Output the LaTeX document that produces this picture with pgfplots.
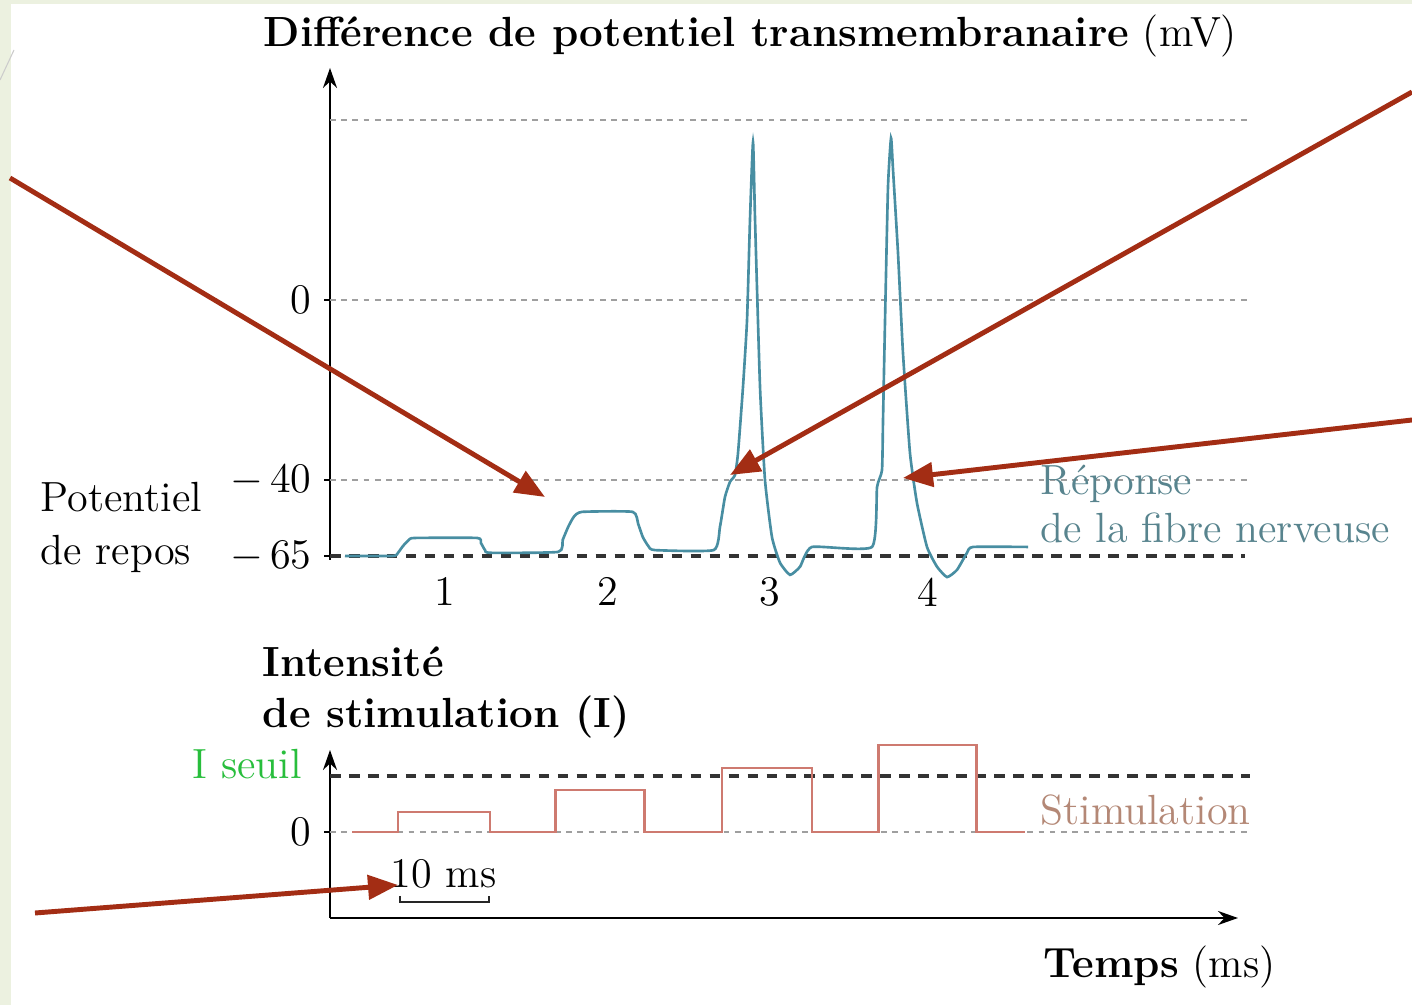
\documentclass[border=0pt]{standalone}
\usepackage{pgfplots}
\pgfplotsset{compat=1.18}
\usetikzlibrary{arrows.meta}

\definecolor{bgGreen}{RGB}{236,241,224}
\definecolor{curveTeal}{RGB}{72,142,162}
\definecolor{textTeal}{RGB}{88,132,142}
\definecolor{stimRed}{RGB}{206,122,112}
\definecolor{stimText}{RGB}{180,136,118}
\definecolor{seuilGreen}{RGB}{40,190,60}
\definecolor{arrowRed}{RGB}{163,45,20}

\tikzset{
  lightdash/.style={gray!75, line width=0.5pt, dash pattern=on 1.6pt off 1.6pt},
  darkdash/.style={black!80, line width=0.9pt, dash pattern=on 3pt off 2.4pt},
  annot/.style={arrowRed, line width=1.4pt, -{Triangle[length=3mm,width=2.4mm]}},
}

\begin{document}
\begin{tikzpicture}
\useasboundingbox (0,0) rectangle (141.2mm,100.5mm);
\fill[bgGreen] (0,0) rectangle (141.2mm,100.5mm);
\fill[white] (1.1mm,0) rectangle (141.2mm,100.1mm);
\draw[gray!40, line width=0.3pt] (0,92.5mm) -- (1.4mm,95.5mm);

\pgfplotsset{every axis/.append style={
  scale only axis, clip=false, anchor=south west,
  tick align=outside, major tick length=1.2mm,
  axis line style={line width=0.6pt},
  tick style={black, line width=0.6pt},
  xtick=\empty,
  tick label style={font=\fontsize{12}{14}\selectfont},
}}

% ===== Top: membrane potential =====
\begin{axis}[
    at={(33mm,44.5mm)}, width=92mm, height=49.2mm,
    xmin=0, xmax=100, ymin=-57.8, ymax=51.6,
    axis x line=none, axis y line=left,
    y axis line style={-{Stealth[length=2mm,width=1.4mm]}},
    ytick={-56.9,-40,0}, yticklabels={{$-$\,65},{$-$\,40},0},
]
\addplot[lightdash] coordinates {(0,40) (100,40)};
\addplot[lightdash] coordinates {(0,0) (100,0)};
\addplot[lightdash] coordinates {(0,-40) (100,-40)};
\addplot[darkdash] coordinates {(0,-56.9) (99.5,-56.9)};
\addplot[curveTeal, line width=0.75pt, smooth, tension=0.3] coordinates {
  (1.63,-56.9) (6.85,-56.9) (7.39,-56.2) (7.93,-54.7) (8.59,-53.3) (9.24,-52.9)
  (16.0,-52.9) (16.4,-54.0) (16.85,-55.6) (17.4,-56.2)
  (24.8,-56.0) (25.3,-53.3) (25.9,-50.4) (26.5,-48.2) (27.4,-47.1)
  (32.9,-47.1) (33.5,-49.8) (34.0,-52.7) (34.6,-54.7) (35.3,-55.6)
  (41.7,-55.6) (42.39,-50.4) (42.93,-43.8) (43.48,-40.4) (44.02,-38.9)
  (44.35,-34.0) (44.89,-19.3) (45.33,-4.4) (45.65,17.8) (45.98,35.1)
  (46.20,17.8) (46.74,-19.3) (47.28,-40.0) (48.04,-52.7) (48.91,-58.4)
  (50.0,-61.1) (51.09,-59.3) (52.39,-54.9)
  (58.91,-54.9) (59.46,-41.6) (60.0,-37.8) (60.11,-26.7) (60.33,-4.4)
  (60.65,25.1) (60.98,36.0) (61.2,28.9) (61.74,10.4) (62.28,-11.8)
  (63.04,-34.0) (63.8,-45.1) (64.89,-54.9) (65.98,-59.3) (67.07,-61.6)
  (68.15,-60.0) (69.24,-56.2) (69.89,-54.9) (75.87,-54.9)
};
\foreach \n/\x in {1/12.5,2/30.2,3/47.8,4/65.0}{
  \edef\tmp{\noexpand\node[font=\noexpand\fontsize{12}{14}\noexpand\selectfont] at (axis cs:\x,-64.9) {\n};}
  \tmp
}
\end{axis}

% ===== Bottom: stimulation intensity =====
\begin{axis}[
    at={(33mm,8.7mm)}, width=90.8mm, height=16.8mm,
    xmin=0, xmax=98.7, ymin=-1.536, ymax=1.464,
    axis lines=left,
    axis line style={-{Stealth[length=2mm,width=1.4mm]}},
    ytick={0}, yticklabels={0},
]
\addplot[darkdash] coordinates {(0,1) (100,1)};
\addplot[lightdash] coordinates {(0,0) (100,0)};
\addplot[stimRed, line width=0.75pt] coordinates {
  (2.4,0) (7.4,0) (7.4,0.357) (17.4,0.357) (17.4,0)
  (24.5,0) (24.5,0.75) (34.2,0.75) (34.2,0)
  (42.6,0) (42.6,1.143) (52.4,1.143) (52.4,0)
  (59.6,0) (59.6,1.554) (70.3,1.554) (70.3,0) (75.5,0)
};
\draw[black!85, line width=0.6pt] (axis cs:7.6,-1.14) -- (axis cs:7.6,-1.25)
  -- (axis cs:17.3,-1.25) -- (axis cs:17.3,-1.14);
\end{axis}

% ===== Texts =====
\begin{scope}[every node/.style={inner sep=0pt, anchor=base west, font=\fontsize{12}{14}\selectfont}]
\node at (26.3mm,95.8mm) {\textbf{Différence de potentiel transmembranaire} (mV)};
\node at (4mm,49.3mm) {Potentiel};
\node at (4mm,44.0mm) {de repos};
\node[text=textTeal] at (104mm,51.0mm) {Réponse};
\node[text=textTeal] at (104mm,46.2mm) {de la fibre nerveuse};
\node at (26.2mm,32.8mm) {\textbf{Intensité}};
\node at (26.2mm,27.7mm) {\textbf{de stimulation (I)}};
\node[text=seuilGreen] at (19.2mm,22.6mm) {I seuil};
\node[text=stimText] at (104mm,18.0mm) {Stimulation};
\node at (39mm,11.7mm) {10 ms};
\node at (104.3mm,2.7mm) {\textbf{Temps} (ms)};
\end{scope}

% ===== Annotation arrows =====
\draw[annot] (1mm,82.7mm) -- (54.5mm,50.8mm);
\draw[annot] (141.2mm,91.3mm) -- (73mm,53.0mm);
\draw[annot] (141.2mm,58.5mm) -- (90.3mm,52.7mm);
\draw[annot] (3.5mm,9.2mm) -- (39.8mm,12.0mm);
\end{tikzpicture}
\end{document}
